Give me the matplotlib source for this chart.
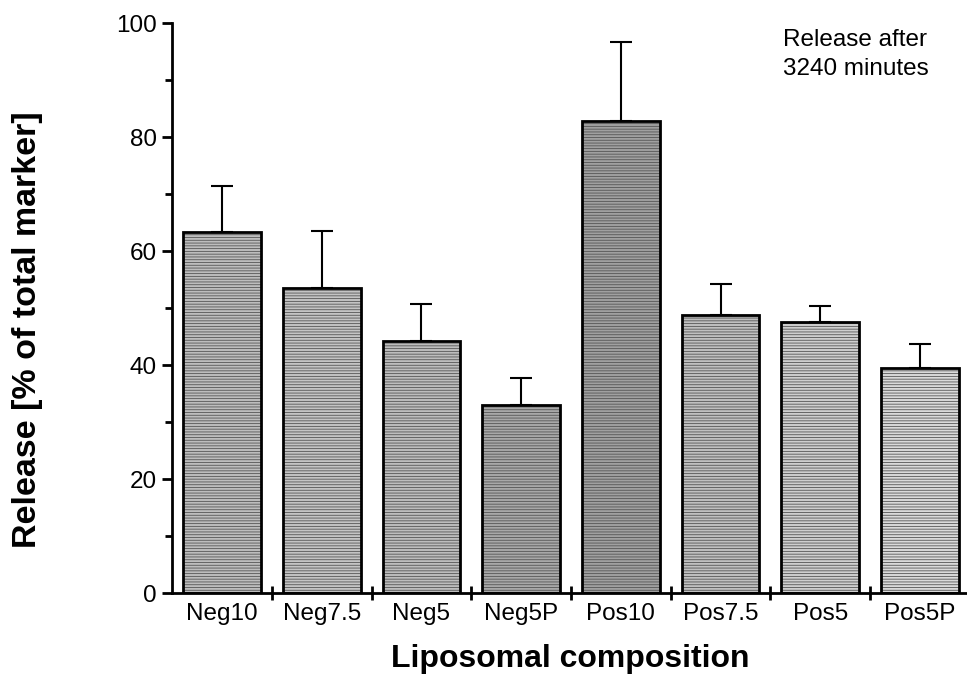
import numpy as np
import matplotlib.pyplot as plt
from matplotlib.ticker import MultipleLocator, FixedLocator, NullFormatter

plt.rcParams['font.family'] = ['Liberation Sans', 'DejaVu Sans']
plt.rcParams['hatch.linewidth'] = 0.6

compositions = ['Neg10', 'Neg7.5', 'Neg5', 'Neg5P', 'Pos10', 'Pos7.5', 'Pos5', 'Pos5P']
release = [63.4, 53.6, 44.3, 33.0, 82.9, 48.8, 47.6, 39.5]
release_sd = [8.0, 10.0, 6.4, 4.7, 13.8, 5.4, 2.8, 4.2]

# grey shade of each bar (scanned stipple look)
shades = ['#bdbdbd', '#c4c4c4', '#bdbdbd', '#a8a8a8', '#a0a0a0', '#c0c0c0', '#cfcfcf', '#dadada']

fig = plt.figure(figsize=(9.67, 6.81), dpi=100)
ax = fig.add_axes([0.178, 0.129, 0.825, 0.837])

x = np.arange(len(compositions))
# textured fill
ax.bar(x, release, width=0.78, color=shades, edgecolor='#555555', hatch='------',
       linewidth=0, zorder=2)
# black outline
ax.bar(x, release, width=0.78, fill=False, edgecolor='black', linewidth=2.0, zorder=3)
ax.errorbar(x, release, yerr=[np.zeros(len(release)), release_sd], fmt='none',
            ecolor='black', elinewidth=1.5, capsize=8, capthick=1.5, zorder=4)

ax.set_xlim(-0.5, 7.5)
ax.set_ylim(0, 100)
ax.spines['top'].set_visible(False)
ax.spines['right'].set_visible(False)
ax.spines['left'].set_linewidth(2.0)
ax.spines['bottom'].set_linewidth(2.0)

ax.yaxis.set_major_locator(MultipleLocator(20))
ax.yaxis.set_minor_locator(MultipleLocator(10))
ax.tick_params(axis='y', which='major', direction='out', length=7, width=2, labelsize=17.5, pad=4)
ax.tick_params(axis='y', which='minor', direction='out', length=5, width=2)

ax.set_xticks(x)
ax.set_xticklabels(compositions)
ax.xaxis.set_minor_locator(FixedLocator(x[:-1] + 0.5))
ax.xaxis.set_minor_formatter(NullFormatter())
ax.tick_params(axis='x', which='major', length=0, labelsize=17.5, pad=7)
ax.tick_params(axis='x', which='minor', direction='inout', length=10, width=2)

ax.set_xlabel('Liposomal composition', fontsize=23, fontweight='bold')
ax.set_ylabel('Release [% of total marker]', fontsize=24.5, fontweight='bold')
ax.xaxis.set_label_coords(0.499, -0.09)
ax.yaxis.set_label_coords(-0.162, 0.462)

ax.text(0.948, 0.99, 'Release after\n3240 minutes', transform=ax.transAxes,
        fontsize=17.5, ha='right', va='top', multialignment='left', linespacing=1.4)

fig.savefig('out.png', dpi=100)
